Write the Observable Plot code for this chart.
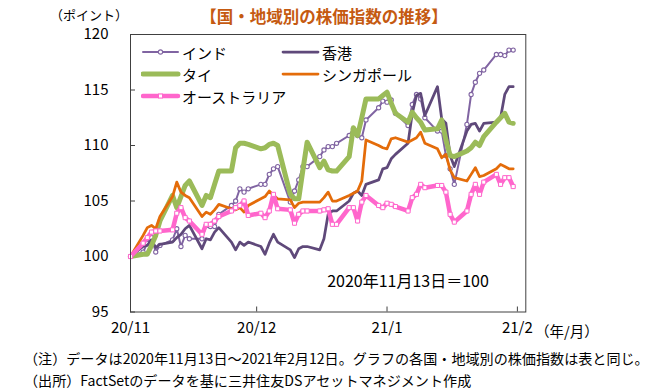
<!DOCTYPE html>
<html><head><meta charset="utf-8">
<script src="https://cdn.jsdelivr.net/npm/d3@7"></script>
<script src="https://cdn.jsdelivr.net/npm/@observablehq/plot@0.6"></script>
<style>
body{margin:0;background:#fff;font-family:'Noto Sans CJK JP',sans-serif;}
#wrap{position:relative;width:651px;height:390px;overflow:hidden;background:#fff;}
#wrap svg.plot{position:absolute;left:0;top:0;}
.abs{position:absolute;white-space:nowrap;line-height:1;color:#000;}
.c{transform:translate(-50%,-50%);}
.l{transform:translate(0,-50%);}
</style></head><body><div id="wrap"></div>
<script>
const dates = [
"2020-11-13","2020-11-16","2020-11-17","2020-11-18","2020-11-19","2020-11-20",
"2020-11-23","2020-11-24","2020-11-25","2020-11-26","2020-11-27",
"2020-11-30","2020-12-01","2020-12-02","2020-12-03","2020-12-04",
"2020-12-07","2020-12-08","2020-12-09","2020-12-10","2020-12-11",
"2020-12-14","2020-12-15","2020-12-16","2020-12-17","2020-12-18",
"2020-12-21","2020-12-22","2020-12-23","2020-12-24","2020-12-25",
"2020-12-28","2020-12-29","2020-12-30","2020-12-31","2021-01-01",
"2021-01-04","2021-01-05","2021-01-06","2021-01-07","2021-01-08",
"2021-01-11","2021-01-12","2021-01-13","2021-01-14","2021-01-15",
"2021-01-18","2021-01-19","2021-01-20","2021-01-21","2021-01-22",
"2021-01-25","2021-01-26","2021-01-27","2021-01-28","2021-01-29",
"2021-02-01","2021-02-02","2021-02-03","2021-02-04","2021-02-05",
"2021-02-08","2021-02-09","2021-02-10","2021-02-11","2021-02-12"];

const india = [
100,100.4,101.2,101.7,100.4,101.0,
101.5,102.5,100.9,101.9,101.6,
101.6,102.8,102.7,102.7,103.8,
104.6,105.0,106.1,105.8,106.1,
106.5,106.5,107.4,107.9,108.1,
104.9,105.9,106.9,108.1,108.1,
109.0,109.6,109.9,109.9,110.2,
110.9,111.5,110.9,110.7,112.3,
113.4,114.0,113.9,114.1,112.9,
111.8,113.7,114.6,114.2,112.5,
111.3,111.3,109.1,107.9,106.5,
111.9,114.6,115.7,116.5,116.8,
118.2,118.2,118.1,118.6,118.6];

const hongkong = [
100,100.9,101.0,101.5,100.8,101.1,
101.3,101.7,102.0,102.5,102.8,
100.7,101.6,101.5,102.2,102.6,
101.3,100.6,101.3,101.0,101.3,
100.9,100.2,101.2,102.0,101.3,
100.6,99.9,100.7,100.9,100.9,
100.6,101.6,103.8,104.1,104.1,
105.0,105.7,105.9,105.5,106.5,
106.9,107.9,108.0,108.8,109.2,
110.2,112.9,114.5,114.7,112.7,
115.3,112.4,112.0,109.1,108.1,
111.3,111.9,112.0,111.3,112.0,
112.1,112.5,114.6,115.3,115.3];

const thai = [
100,100.2,100.2,101.0,101.9,103.2,
105.5,104.4,105.4,106.4,106.8,
104.6,105.5,105.3,106.5,107.7,
107.7,109.8,110.2,110.2,110.1,
109.7,109.8,110.1,110.2,110.0,
105.6,105.2,105.2,107.8,110.3,
108.0,108.6,107.8,107.7,107.7,
109.0,111.6,110.9,112.5,114.2,
114.2,114.5,114.8,113.8,112.9,
112.1,113.0,112.5,112.1,111.4,
111.5,112.3,110.5,109.1,109.0,
109.5,109.8,110.3,110.0,110.8,
112.1,112.5,112.9,112.1,112.0];

const singapore = [
100,101.9,102.6,102.8,102.5,103.6,
105.4,106.7,105.8,105.5,105.3,
103.6,104.0,103.8,104.2,104.7,
104.3,104.2,104.4,104.0,104.6,
105.2,105.4,105.9,105.5,105.2,
105.1,104.4,104.8,104.9,104.9,
104.9,105.3,105.8,105.0,105.0,
105.5,105.7,105.9,106.8,110.5,
110.0,109.8,109.7,110.6,110.7,
110.3,110.5,110.7,111.2,110.2,
109.7,108.9,109.2,107.8,107.1,
106.8,107.4,108.0,107.2,107.3,
107.9,108.3,108.1,107.9,107.9];

const australia = [
100,101.2,101.7,102.2,102.3,102.3,
102.4,103.9,104.4,103.5,103.2,
102.0,102.9,102.9,103.2,103.6,
104.1,104.4,104.6,105.0,103.7,
103.9,103.5,104.1,105.6,104.3,
104.2,103.0,103.8,104.1,104.1,
104.1,104.2,104.3,102.9,102.9,
104.4,104.4,103.2,104.9,105.5,
104.6,104.4,104.8,104.7,104.5,
104.1,105.3,105.6,106.5,106.2,
106.4,106.4,105.8,103.8,103.1,
104.1,105.6,106.5,105.6,106.7,
107.4,106.5,107.1,107.1,106.3];

const seriesNames = ["インド","香港","タイ","シンガポール","オーストラリア"];
const seriesValues = [india, hongkong, thai, singapore, australia];
const seriesColors = ["#8064A2","#5F497A","#9BBB59","#E46C0A","#FF66CC"];
const seriesWidths = [2, 2.75, 5, 2.75, 4.5];

const yTicks = [95,100,105,110,115,120];
const xTickDates = ["2020-11-13","2020-12-13","2021-01-13","2021-02-13"];
const xTickLabels = ["20/11","20/12","21/1","21/2"];

const xDomain = [new Date("2020-11-13"), new Date("2021-02-15")];
const W = 651, H = 345, mL = 130, mR = 125.7, mT = 34, mB = 33.5;
const plotW = W - mL - mR, plotH = H - mT - mB;
const ink = "#404040";

const labelMap = new Map(xTickDates.map((d,i)=>[+new Date(d), xTickLabels[i]]));
const tickDates = xTickDates.map(d=>new Date(d));

const rowsFor = vals => dates.map((d,i)=>({date:new Date(d), value:vals[i]}));

const seriesMarks = [];
seriesValues.forEach((vals,k)=>{
  const rows = rowsFor(vals);
  seriesMarks.push(Plot.line(rows,{x:"date",y:"value",stroke:seriesColors[k],strokeWidth:seriesWidths[k],strokeLinejoin:"round",strokeLinecap:"round"}));
  if (k===0) seriesMarks.push(Plot.dot(rows,{x:"date",y:"value",r:2.1,fill:"white",stroke:seriesColors[k],strokeWidth:1.1}));
  if (k===4) seriesMarks.push(Plot.dot(rows,{x:"date",y:"value",symbol:"square",r:2.3,fill:"white",stroke:seriesColors[k],strokeWidth:1}));
});

const chart = Plot.plot({
  width: W, height: H,
  marginLeft: mL, marginRight: mR, marginTop: mT, marginBottom: mB,
  style:{fontFamily:"'Noto Sans CJK JP',sans-serif",fontSize:"15px",color:"#000",background:"transparent",overflow:"visible"},
  x:{type:"utc", domain:xDomain},
  y:{domain:[95,120]},
  marks:[
    Plot.tickY(yTicks,{y:d=>d,stroke:ink,insetRight:plotW-5}),
    Plot.tickX(tickDates.slice(1),{x:d=>d,stroke:ink,insetTop:plotH-5}),
    Plot.axisY({ticks:yTicks,tickSize:0,tickPadding:22,label:null,fontSize:15}),
    Plot.axisX({ticks:tickDates,tickSize:0,tickPadding:10,label:null,fontSize:15,tickFormat:d=>labelMap.get(+d)}),
    ...seriesMarks,
    Plot.frame({stroke:ink,strokeWidth:1})
  ]
});
chart.classList.add("plot");
const wrap = document.getElementById("wrap");
wrap.appendChild(chart);

function addText(txt, x, y, cls, style){
  const d = document.createElement("div");
  d.className = "abs " + cls;
  d.textContent = txt;
  d.style.left = x + "px"; d.style.top = y + "px";
  Object.assign(d.style, style||{});
  wrap.appendChild(d);
  return d;
}
addText("【国・地域別の株価指数の推移】", 324, 16, "c", {fontSize:"16.5px",fontWeight:"bold",color:"#C55A11"});
addText("（ポイント）", 89, 14, "c", {fontSize:"13px"});
addText("（年/月）", 535, 331, "l", {fontSize:"14.5px"});
addText("2020年11月13日＝100", 408, 280, "c", {fontSize:"16px"});
addText("（注）データは2020年11月13日～2021年2月12日。グラフの各国・地域別の株価指数は表と同じ。", 24, 358, "l", {fontSize:"14.1px"});
addText("（出所）FactSetのデータを基に三井住友DSアセットマネジメント作成", 24, 380, "l", {fontSize:"14.1px"});

// legend
const legendPos = [[143,52],[283,52],[143,74],[283,74],[143,96]];
seriesNames.forEach((name,k)=>{
  const [lx,ly] = legendPos[k];
  const ns = "http://www.w3.org/2000/svg";
  const s = document.createElementNS(ns,"svg");
  s.setAttribute("width",40); s.setAttribute("height",12);
  s.style.position="absolute"; s.style.left=(lx-2)+"px"; s.style.top=(ly-6)+"px";
  const ln = document.createElementNS(ns,"line");
  ln.setAttribute("x1",2); ln.setAttribute("x2",37); ln.setAttribute("y1",6); ln.setAttribute("y2",6);
  ln.setAttribute("stroke",seriesColors[k]); ln.setAttribute("stroke-width",seriesWidths[k]); ln.setAttribute("stroke-linecap","round");
  s.appendChild(ln);
  if(k===0){const c=document.createElementNS(ns,"circle");c.setAttribute("cx",19.5);c.setAttribute("cy",6);c.setAttribute("r",2.1);c.setAttribute("fill","white");c.setAttribute("stroke",seriesColors[k]);c.setAttribute("stroke-width",1.1);s.appendChild(c);}
  if(k===4){const r=document.createElementNS(ns,"rect");r.setAttribute("x",17.5);r.setAttribute("y",4);r.setAttribute("width",4);r.setAttribute("height",4);r.setAttribute("fill","white");r.setAttribute("stroke",seriesColors[k]);r.setAttribute("stroke-width",1);s.appendChild(r);}
  wrap.appendChild(s);
  addText(name, lx+39, ly, "l", {fontSize:"15px"});
});
</script></body></html>
